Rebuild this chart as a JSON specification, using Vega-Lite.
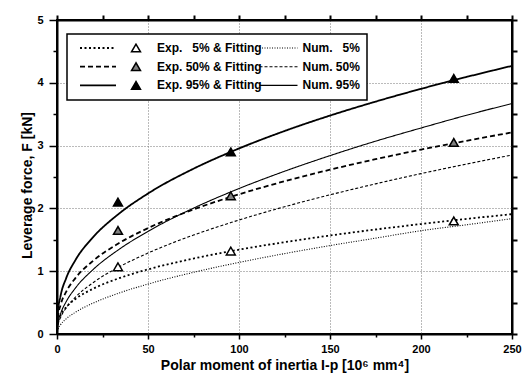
{
  "$schema": "https://vega.github.io/schema/vega-lite/v6.json",
  "width": 455,
  "height": 314,
  "autosize": {"type": "none"},
  "padding": {"left": 57, "top": 20, "right": 11, "bottom": 49},
  "background": "white",
  "config": {
    "font": "Liberation Sans",
    "view": {"stroke": "black", "strokeWidth": 2},
    "axis": {"ticks": true, "tickOpacity": 1, "zindex": 1},
    "legend": {"strokeWidth": 1.5, "symbolOpacity": 1, "labelColor": "black", "labelFontSize": 12, "labelFontWeight": "bold", "labelFont": "Liberation Sans"}
  },
  "datasets": {
    "fit": [
      {"x": 0, "F": 0, "fit": "5%"}, {"x": 0.5, "F": 0.175, "fit": "5%"}, {"x": 2, "F": 0.299, "fit": "5%"}, {"x": 5, "F": 0.425, "fit": "5%"}, {"x": 10, "F": 0.554, "fit": "5%"}, {"x": 20, "F": 0.723, "fit": "5%"}, {"x": 33.5, "F": 0.882, "fit": "5%"}, {"x": 50, "F": 1.029, "fit": "5%"}, {"x": 75, "F": 1.202, "fit": "5%"}, {"x": 95.5, "F": 1.319, "fit": "5%"}, {"x": 125, "F": 1.462, "fit": "5%"}, {"x": 150, "F": 1.568, "fit": "5%"}, {"x": 175, "F": 1.664, "fit": "5%"}, {"x": 200, "F": 1.751, "fit": "5%"}, {"x": 225, "F": 1.833, "fit": "5%"}, {"x": 250, "F": 1.908, "fit": "5%"},
      {"x": 0, "F": 0, "fit": "50%"}, {"x": 0.5, "F": 0.267, "fit": "50%"}, {"x": 2, "F": 0.465, "fit": "50%"}, {"x": 5, "F": 0.671, "fit": "50%"}, {"x": 10, "F": 0.886, "fit": "50%"}, {"x": 20, "F": 1.169, "fit": "50%"}, {"x": 33.5, "F": 1.437, "fit": "50%"}, {"x": 50, "F": 1.686, "fit": "50%"}, {"x": 75, "F": 1.983, "fit": "50%"}, {"x": 95.5, "F": 2.184, "fit": "50%"}, {"x": 125, "F": 2.432, "fit": "50%"}, {"x": 150, "F": 2.616, "fit": "50%"}, {"x": 175, "F": 2.783, "fit": "50%"}, {"x": 200, "F": 2.936, "fit": "50%"}, {"x": 225, "F": 3.077, "fit": "50%"}, {"x": 250, "F": 3.21, "fit": "50%"},
      {"x": 0, "F": 0, "fit": "95%"}, {"x": 0.5, "F": 0.351, "fit": "95%"}, {"x": 2, "F": 0.613, "fit": "95%"}, {"x": 5, "F": 0.886, "fit": "95%"}, {"x": 10, "F": 1.171, "fit": "95%"}, {"x": 20, "F": 1.547, "fit": "95%"}, {"x": 33.5, "F": 1.903, "fit": "95%"}, {"x": 50, "F": 2.237, "fit": "95%"}, {"x": 75, "F": 2.632, "fit": "95%"}, {"x": 95.5, "F": 2.9, "fit": "95%"}, {"x": 125, "F": 3.232, "fit": "95%"}, {"x": 150, "F": 3.478, "fit": "95%"}, {"x": 175, "F": 3.7, "fit": "95%"}, {"x": 200, "F": 3.904, "fit": "95%"}, {"x": 225, "F": 4.093, "fit": "95%"}, {"x": 250, "F": 4.27, "fit": "95%"}
    ],
    "num": [
      {"x": 0, "F": 0, "num": "5%"}, {"x": 0.5, "F": 0.073, "num": "5%"}, {"x": 2, "F": 0.149, "num": "5%"}, {"x": 5, "F": 0.24, "num": "5%"}, {"x": 10, "F": 0.344, "num": "5%"}, {"x": 20, "F": 0.494, "num": "5%"}, {"x": 33.5, "F": 0.646, "num": "5%"}, {"x": 50, "F": 0.795, "num": "5%"}, {"x": 75, "F": 0.982, "num": "5%"}, {"x": 95.5, "F": 1.113, "num": "5%"}, {"x": 125, "F": 1.28, "num": "5%"}, {"x": 150, "F": 1.408, "num": "5%"}, {"x": 175, "F": 1.526, "num": "5%"}, {"x": 200, "F": 1.645, "num": "5%"}, {"x": 225, "F": 1.739, "num": "5%"}, {"x": 250, "F": 1.837, "num": "5%"},
      {"x": 0, "F": 0, "num": "50%"}, {"x": 0.5, "F": 0.133, "num": "50%"}, {"x": 2, "F": 0.264, "num": "50%"}, {"x": 5, "F": 0.414, "num": "50%"}, {"x": 10, "F": 0.583, "num": "50%"}, {"x": 20, "F": 0.821, "num": "50%"}, {"x": 33.5, "F": 1.058, "num": "50%"}, {"x": 50, "F": 1.289, "num": "50%"}, {"x": 75, "F": 1.575, "num": "50%"}, {"x": 95.5, "F": 1.774, "num": "50%"}, {"x": 125, "F": 2.026, "num": "50%"}, {"x": 150, "F": 2.216, "num": "50%"}, {"x": 175, "F": 2.391, "num": "50%"}, {"x": 200, "F": 2.554, "num": "50%"}, {"x": 225, "F": 2.706, "num": "50%"}, {"x": 250, "F": 2.85, "num": "50%"},
      {"x": 0, "F": 0, "num": "95%"}, {"x": 0.5, "F": 0.161, "num": "95%"}, {"x": 2, "F": 0.324, "num": "95%"}, {"x": 5, "F": 0.513, "num": "95%"}, {"x": 10, "F": 0.727, "num": "95%"}, {"x": 20, "F": 1.031, "num": "95%"}, {"x": 33.5, "F": 1.336, "num": "95%"}, {"x": 50, "F": 1.634, "num": "95%"}, {"x": 75, "F": 2.004, "num": "95%"}, {"x": 95.5, "F": 2.263, "num": "95%"}, {"x": 125, "F": 2.591, "num": "95%"}, {"x": 150, "F": 2.84, "num": "95%"}, {"x": 175, "F": 3.07, "num": "95%"}, {"x": 200, "F": 3.28, "num": "95%"}, {"x": 225, "F": 3.483, "num": "95%"}, {"x": 250, "F": 3.67, "num": "95%"}
    ],
    "exp": [
      {"x": 33.5, "F": 1.07, "exp": "5%"}, {"x": 95.5, "F": 1.32, "exp": "5%"}, {"x": 218, "F": 1.8, "exp": "5%"},
      {"x": 33.5, "F": 1.65, "exp": "50%"}, {"x": 95.5, "F": 2.2, "exp": "50%"}, {"x": 218, "F": 3.05, "exp": "50%"},
      {"x": 33.5, "F": 2.1, "exp": "95%"}, {"x": 95.5, "F": 2.9, "exp": "95%"}, {"x": 218, "F": 4.07, "exp": "95%"}
    ]
  },
  "resolve": {"scale": {"strokeDash": "independent", "x": "independent", "y": "independent"}, "axis": {"x": "independent", "y": "independent"}},
  "layer": [
    {
      "data": {"name": "fit"},
      "mark": {"type": "line", "color": "black", "strokeWidth": 1.8, "interpolate": "monotone"},
      "encoding": {
        "x": {
          "field": "x", "type": "quantitative",
          "scale": {"domain": [0, 250], "nice": false, "zero": false},
          "axis": {
            "orient": "bottom",
            "title": "Polar moment of inertia I-p [10⁶ mm⁴]",
            "values": [0, 25, 50, 75, 100, 125, 150, 175, 200, 225, 250],
            "labelExpr": "datum.value % 50 === 0 ? datum.label : ''",
            "tickSize": {"condition": {"test": "datum.value % 50 === 0", "value": 5}, "value": 3},
            "grid": true,
            "gridOpacity": {"condition": {"test": "datum.value % 50 === 0 && datum.value > 0 && datum.value < 250", "value": 1}, "value": 0},
            "gridDash": [1, 2], "gridColor": "#777777", "gridWidth": 1,
            "domainColor": "black", "domainWidth": 2,
            "tickColor": "black", "tickWidth": 1.5,
            "labelFont": "Liberation Sans", "labelFontSize": 11, "labelFontWeight": "bold", "labelColor": "black",
            "labelPadding": 4, "labelFlush": false, "labelOverlap": false,
            "titleFont": "Liberation Sans", "titleFontSize": 14, "titleFontWeight": "bold", "titleColor": "black", "titlePadding": 4
          }
        },
        "y": {
          "field": "F", "type": "quantitative",
          "scale": {"domain": [0, 5], "nice": false},
          "axis": {
            "orient": "left",
            "title": "Leverage force, F [kN]",
            "titleY": 165,
            "values": [0, 0.5, 1, 1.5, 2, 2.5, 3, 3.5, 4, 4.5, 5],
            "labelExpr": "datum.value % 1 === 0 ? format(datum.value, 'd') : ''",
            "tickSize": {"condition": {"test": "datum.value % 1 === 0", "value": 8}, "value": 4},
            "grid": true,
            "gridOpacity": {"condition": {"test": "datum.value % 1 === 0 && datum.value > 0 && datum.value < 5", "value": 1}, "value": 0},
            "gridDash": [1, 2], "gridColor": "#777777", "gridWidth": 1,
            "domainColor": "black", "domainWidth": 2,
            "tickColor": "black", "tickWidth": 1.5,
            "labelFont": "Liberation Sans", "labelFontSize": 11, "labelFontWeight": "bold", "labelColor": "black",
            "labelPadding": 6, "labelFlush": false, "labelOverlap": false,
            "titleFont": "Liberation Sans", "titleFontSize": 14, "titleFontWeight": "bold", "titleColor": "black", "titlePadding": 2
          }
        },
        "strokeDash": {
          "field": "fit", "type": "nominal",
          "scale": {"domain": ["5%", "50%", "95%"], "range": [[2, 2.5], [5, 3], [1, 0]]},
          "legend": {
            "title": null, "orient": "none", "legendX": 22, "legendY": 21, "padding": 0, "zindex": 3,
            "symbolType": "stroke", "symbolSize": 1296, "symbolStrokeWidth": 1.8, "symbolStrokeColor": "black",
            "clipHeight": 14, "rowPadding": 4.7, "labelExpr": "''"
          }
        }
      }
    },
    {
      "data": {"name": "num"},
      "mark": {"type": "line", "color": "black", "strokeWidth": 1.1, "interpolate": "monotone"},
      "encoding": {
        "x": {
          "field": "x", "type": "quantitative",
          "scale": {"domain": [0, 250], "nice": false, "zero": false},
          "axis": {
            "orient": "top", "title": null, "grid": false, "labels": false,
            "values": [0, 25, 50, 75, 100, 125, 150, 175, 200, 225, 250],
            "ticks": true, "tickSize": 5, "tickColor": "#000000", "tickWidth": 2, "tickOpacity": 1,
            "domain": true, "domainColor": "#000000", "domainWidth": 2
          }
        },
        "y": {
          "field": "F", "type": "quantitative",
          "scale": {"domain": [0, 5], "nice": false},
          "axis": {
            "orient": "right", "title": null, "grid": false, "labels": false,
            "values": [0, 0.5, 1, 1.5, 2, 2.5, 3, 3.5, 4, 4.5, 5],
            "ticks": true, "tickSize": 5, "tickColor": "#000000", "tickWidth": 2, "tickOpacity": 1,
            "domain": true, "domainColor": "#000000", "domainWidth": 2
          }
        },
        "strokeDash": {
          "field": "num", "type": "nominal",
          "scale": {"domain": ["5%", "50%", "95%"], "range": [[1, 1.5], [3, 2], [1, 0]]},
          "legend": {
            "title": null, "orient": "none", "legendX": 10, "legendY": 14, "padding": 7, "zindex": 1,
            "strokeColor": "black", "fillColor": "white",
            "symbolType": "stroke", "symbolSize": 1444, "symbolStrokeWidth": 1.1, "symbolStrokeColor": "black",
            "symbolOffset": 184.5, "labelOffset": 4,
            "clipHeight": 14, "rowPadding": 4.7,
            "labelExpr": "datum.label == '5%' ? 'Num. \u00a0\u00a05%' : 'Num. ' + datum.label"
          }
        }
      }
    },
    {
      "data": {"name": "exp"},
      "mark": {"type": "point", "shape": "triangle-up", "filled": true, "stroke": "black", "strokeWidth": 1.5, "size": 80, "opacity": 1},
      "encoding": {
        "x": {"field": "x", "type": "quantitative", "scale": {"domain": [0, 250], "nice": false, "zero": false}, "axis": null},
        "y": {"field": "F", "type": "quantitative", "scale": {"domain": [0, 5], "nice": false}, "axis": null},
        "fill": {
          "field": "exp", "type": "nominal",
          "scale": {"domain": ["5%", "50%", "95%"], "range": ["white", "#808080", "black"]},
          "legend": {
            "title": null, "orient": "none", "legendX": 73, "legendY": 21, "padding": 0, "zindex": 3,
            "symbolType": "triangle-up", "symbolSize": 80, "symbolStrokeColor": "black", "symbolStrokeWidth": 1.5,
            "clipHeight": 14, "rowPadding": 4.7, "labelOffset": 15,
            "labelExpr": "datum.label == '5%' ? 'Exp. \u00a0\u00a05% & Fitting' : 'Exp. ' + datum.label + ' & Fitting'"
          }
        }
      }
    }
  ]
}
